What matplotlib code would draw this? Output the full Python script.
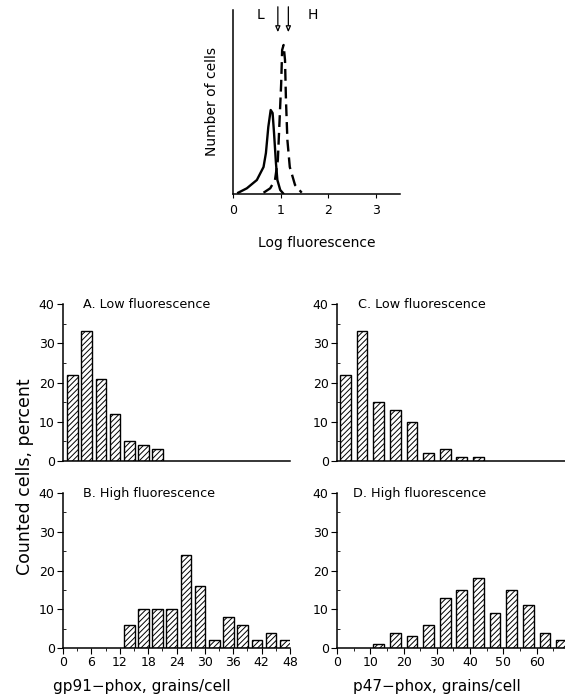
import matplotlib
matplotlib.use('Agg')
import matplotlib.pyplot as plt
from matplotlib.ticker import MultipleLocator, NullLocator

plt.rcParams['font.family'] = ['DejaVu Sans']
plt.rcParams['hatch.linewidth'] = 0.7
plt.rcParams['axes.linewidth'] = 1.1

# top: flow histograms, log fluorescence vs number of cells (arbitrary units)
low_x = [0.11, 0.29, 0.50, 0.64, 0.69, 0.74, 0.79, 0.83, 0.86, 0.90, 0.93, 0.99, 1.05]
low_n = [1.3, 5.7, 14, 27, 41, 67, 84, 81, 61, 31, 14, 4, 0.7]
high_x = [0.64, 0.78, 0.88, 0.94, 0.97, 1.01, 1.03, 1.06, 1.09, 1.11, 1.14, 1.19, 1.30, 1.44]
high_n = [1.3, 5.7, 14, 34, 67, 111, 144, 149, 134, 94, 54, 27, 9, 1.3]
gate_x = [0.94, 1.16]

# bottom: grain counts per cell, percent of counted cells
gp91_low_bins = [2, 5, 8, 11, 14, 17, 20]
gp91_low_pct = [22, 33, 21, 12, 5, 4, 3]
gp91_high_bins = [14, 17, 20, 23, 26, 29, 32, 35, 38, 41, 44, 47]
gp91_high_pct = [6, 10, 10, 10, 24, 16, 2, 8, 6, 2, 4, 2]
p47_low_bins = [2.5, 7.5, 12.5, 17.5, 22.5, 27.5, 32.5, 37.5, 42.5]
p47_low_pct = [22, 33, 15, 13, 10, 2, 3, 1, 1]
p47_high_bins = [12.5, 17.5, 22.5, 27.5, 32.5, 37.5, 42.5, 47.5, 52.5, 57.5, 62.5, 67.5]
p47_high_pct = [1, 4, 3, 6, 13, 15, 18, 9, 15, 11, 4, 2]

W, H = 565, 698


def box(left, top, right, bottom):
    return [left / W, 1 - bottom / H, (right - left) / W, (bottom - top) / H]


def clean(ax):
    ax.spines['top'].set_visible(False)
    ax.spines['right'].set_visible(False)


fig = plt.figure(figsize=(W / 100, H / 100), dpi=100)

# ---- top panel
ax = fig.add_axes(box(233, 10, 400, 194))
clean(ax)
ax.plot(low_x, low_n, color='black', lw=1.7)
ax.plot(high_x, high_n, color='black', lw=1.7, ls=(0, (5, 2.5)))
ax.set_xlim(0, 3.5)
ax.set_ylim(0, 184)
ax.set_xticks([0, 1, 2, 3])
ax.yaxis.set_major_locator(NullLocator())
ax.tick_params(axis='x', direction='out', length=3, labelsize=9, pad=4)
ax.set_xlabel('Log fluorescence', fontsize=10, labelpad=14)
ax.set_ylabel('Number of cells', fontsize=10, labelpad=10)
for gx in gate_x:
    ax.annotate('', xy=(gx, 159), xytext=(gx, 190), annotation_clip=False,
                arrowprops=dict(arrowstyle='-|>,head_length=0.35,head_width=0.15',
                                color='black', lw=0.9, fc='white'))
ax.text(0.57, 179, 'L', fontsize=10, ha='center', va='center')
ax.text(1.68, 179, 'H', fontsize=10, ha='center', va='center')

# ---- bottom panels
panels = [
    (box(63, 304, 290, 461), gp91_low_bins, gp91_low_pct, 2.25, 48, 'A. Low fluorescence', 4.2, None),
    (box(63, 493, 290, 648), gp91_high_bins, gp91_high_pct, 2.25, 48, 'B. High fluorescence', 4.2, (6, 3)),
    (box(337, 304, 565, 461), p47_low_bins, p47_low_pct, 3.2, 68.5, 'C. Low fluorescence', 6.3, None),
    (box(337, 493, 565, 648), p47_high_bins, p47_high_pct, 3.2, 68.5, 'D. High fluorescence', 4.9, (10, 5)),
]

for rect, bins, pct, width, xmax, title, tx, xt in panels:
    ax = fig.add_axes(rect)
    clean(ax)
    ax.bar(bins, pct, width=width, color='white', edgecolor='black',
           hatch='//////', lw=1.0, clip_on=True)
    ax.set_xlim(0, xmax)
    ax.set_ylim(0, 40)
    ax.yaxis.set_major_locator(MultipleLocator(10))
    ax.yaxis.set_minor_locator(MultipleLocator(5))
    ax.tick_params(axis='y', which='major', direction='out', length=4, labelsize=9, pad=2)
    ax.tick_params(axis='y', which='minor', direction='in', length=2)
    if xt is None:
        ax.xaxis.set_major_locator(NullLocator())
    else:
        ax.xaxis.set_major_locator(MultipleLocator(xt[0]))
        ax.xaxis.set_minor_locator(MultipleLocator(xt[1]))
        ax.tick_params(axis='x', which='major', direction='out', length=4, labelsize=9, pad=2)
        ax.tick_params(axis='x', which='minor', direction='out', length=2)
    ax.text(tx, 40, title, fontsize=9.2, ha='left', va='center')

fig.text(25 / W, 1 - 477 / H, 'Counted cells, percent', rotation=90,
         fontsize=12.5, ha='center', va='center')
fig.text(142 / W, 1 - 686 / H, 'gp91\u2212phox, grains/cell', fontsize=11,
         ha='center', va='center')
fig.text(437 / W, 1 - 686 / H, 'p47\u2212phox, grains/cell', fontsize=11,
         ha='center', va='center')

fig.savefig('out.png', dpi=100)
